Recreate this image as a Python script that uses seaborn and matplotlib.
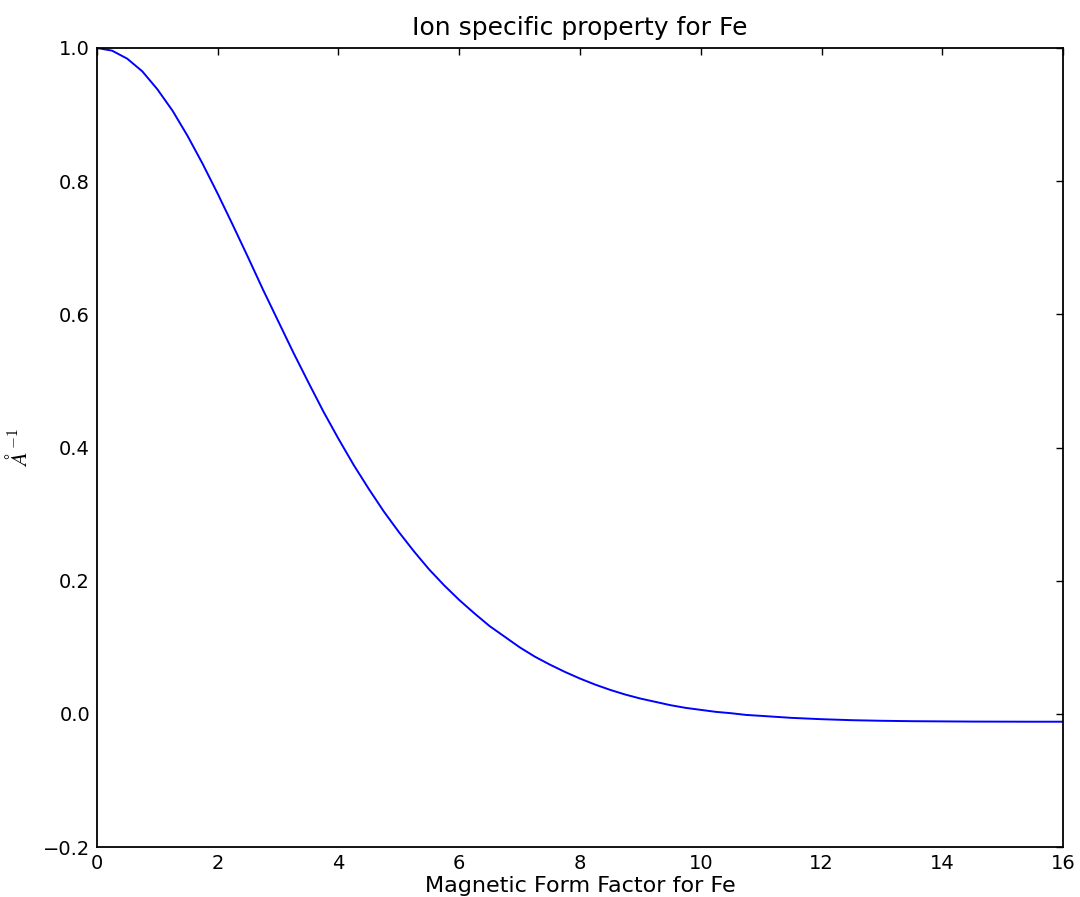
# ==========================================
# Magnetic form factor curve for Fe
# ==========================================

import numpy as np
import pandas as pd
import matplotlib
matplotlib.use("Agg")
import matplotlib.pyplot as plt
import seaborn as sns

# Values
q_values = [0.0, 0.25, 0.5, 0.75, 1.0, 1.25, 1.5, 1.75, 2.0, 2.25, 2.5,
            2.75, 3.0, 3.25, 3.5, 3.75, 4.0, 4.25, 4.5, 4.75, 5.0, 5.25,
            5.5, 5.75, 6.0, 6.25, 6.5, 6.75, 7.0, 7.25, 7.5, 7.75, 8.0,
            8.25, 8.5, 8.75, 9.0, 9.25, 9.5, 9.75, 10.0, 10.25, 10.5,
            10.75, 11.0, 11.5, 12.0, 12.5, 13.0, 13.5, 14.0, 14.5, 15.0,
            15.5, 16.0]
form_factor = [1.000, 0.996, 0.984, 0.965, 0.938, 0.906, 0.868, 0.826,
               0.781, 0.734, 0.686, 0.637, 0.590, 0.543, 0.498, 0.454,
               0.413, 0.374, 0.338, 0.304, 0.273, 0.244, 0.217, 0.193,
               0.171, 0.151, 0.132, 0.116, 0.100, 0.086, 0.074, 0.063,
               0.053, 0.044, 0.036, 0.029, 0.023, 0.018, 0.013, 0.009,
               0.006, 0.003, 0.001, -0.0016, -0.003, -0.006, -0.008,
               -0.0095, -0.0104, -0.011, -0.0113, -0.0116, -0.0117,
               -0.0118, -0.0118]

x_ticks = [0, 2, 4, 6, 8, 10, 12, 14, 16]
y_ticks = [-0.2, 0.0, 0.2, 0.4, 0.6, 0.8, 1.0]

df = pd.DataFrame({"q": q_values, "ff": form_factor})

sns.set_style("white")
plt.rcParams["font.family"] = ["DejaVu Sans"]
plt.rcParams["mathtext.fontset"] = "cm"
plt.rcParams["text.color"] = "black"
plt.rcParams["axes.labelcolor"] = "black"

fig = plt.figure(figsize=(10.8, 8.97), dpi=100)
ax = fig.add_axes([0.0898, 0.0557, 0.8945, 0.8908])

sns.lineplot(data=df, x="q", y="ff", color="#0000ff", linewidth=1.4, ax=ax)

ax.set_xlim(0, 16)
ax.set_ylim(-0.2, 1.0)
ax.set_xticks(x_ticks)
ax.set_yticks(y_ticks)
ax.set_xticklabels([str(t) for t in x_ticks])
ax.set_yticklabels([f"{t:.1f}".replace("-", "\u2212") for t in y_ticks])

ax.tick_params(direction="in", length=5, width=1, top=True, right=True,
               labelsize=14, pad=5, colors="black")

for side in ["top", "bottom", "left", "right"]:
    ax.spines[side].set_visible(True)
    ax.spines[side].set_color("black")
    ax.spines[side].set_linewidth(1.3)

ax.set_title("Ion specific property for Fe", fontsize=18, pad=9, color="black")
ax.set_xlabel("Magnetic Form Factor for Fe", fontsize=16, labelpad=2)
ax.set_ylabel(r"$\AA^{-1}$", fontsize=16)
ax.yaxis.set_label_coords(-0.068, 0.5)

fig.savefig("out.png", dpi=100)
